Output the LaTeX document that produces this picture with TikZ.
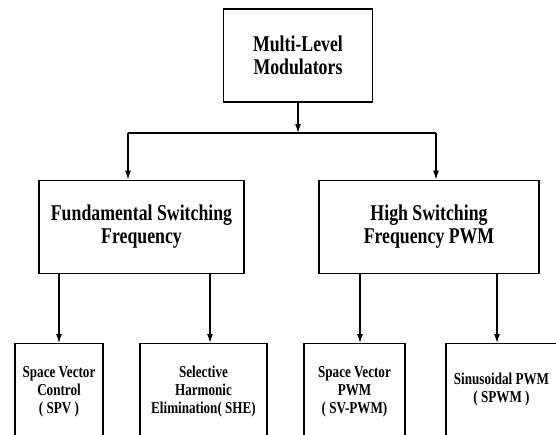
\documentclass[tikz,border=0pt]{standalone}
\usepackage{fontspec}
\setmainfont{Liberation Serif}[FakeStretch=0.79]
\usetikzlibrary{arrows.meta}
\tikzset{
  blk/.style={draw, line width=1.2pt, align=center, inner sep=0pt, minimum height=93pt,
    font=\bfseries\fontsize{22.5}{23}\selectfont},
  leaf/.style={blk, anchor=north, minimum height=110pt, text depth=18pt,
    font=\bfseries\fontsize{16.6}{18}\selectfont},
  arr/.style={line width=1.2pt, -{Latex[length=9pt,width=6pt]}},
  lnk/.style={line width=1.2pt}
}
\begin{document}
\begin{tikzpicture}[x=1pt,y=-1pt]
  \path[use as bounding box] (0,0) rectangle (556,434);
  \clip (0,0) rectangle (556,434);
  % top level
  \node[blk, minimum width=149pt] (mlm) at (298,55.5) {Multi-Level\\Modulators};
  % second level
  \node[blk, minimum width=205pt] (fsf) at (141.5,226.7) {Fundamental Switching\\Frequency};
  \node[blk, minimum width=220pt] (hsf) at (429,226.7) {High Switching\\Frequency PWM};
  % third level (cut off at the bottom)
  \node[leaf, minimum width=88pt] (spv) at (59,343) {Space Vector\\Control\\( SPV )};
  \node[leaf, minimum width=127pt] (she) at (203.5,343) {Selective\\Harmonic\\Elimination( SHE)};
  \node[leaf, minimum width=101pt] (svpwm) at (354.5,343) {Space Vector\\PWM\\( SV-PWM)};
  \node[leaf, minimum width=111pt, text depth=22pt] (spwm) at (501.5,343) {Sinusoidal PWM\\( SPWM )};
  % connectors
  \coordinate (jn) at (298,133);
  \coordinate (jl) at (128,133);
  \coordinate (jr) at (436,133);
  \draw[arr] (mlm) -- (jn);
  \draw[lnk] (jl) -- (jr);
  \draw[arr] (jl) -- (jl |- fsf.north);
  \draw[arr] (jr) -- (jr |- hsf.north);
  \foreach \x/\a/\b in {59/fsf/spv, 210/fsf/she, 360/hsf/svpwm, 497/hsf/spwm}
    \draw[arr] (\x,0 |- \a.south) -- (\x,0 |- \b.north);
\end{tikzpicture}
\end{document}
